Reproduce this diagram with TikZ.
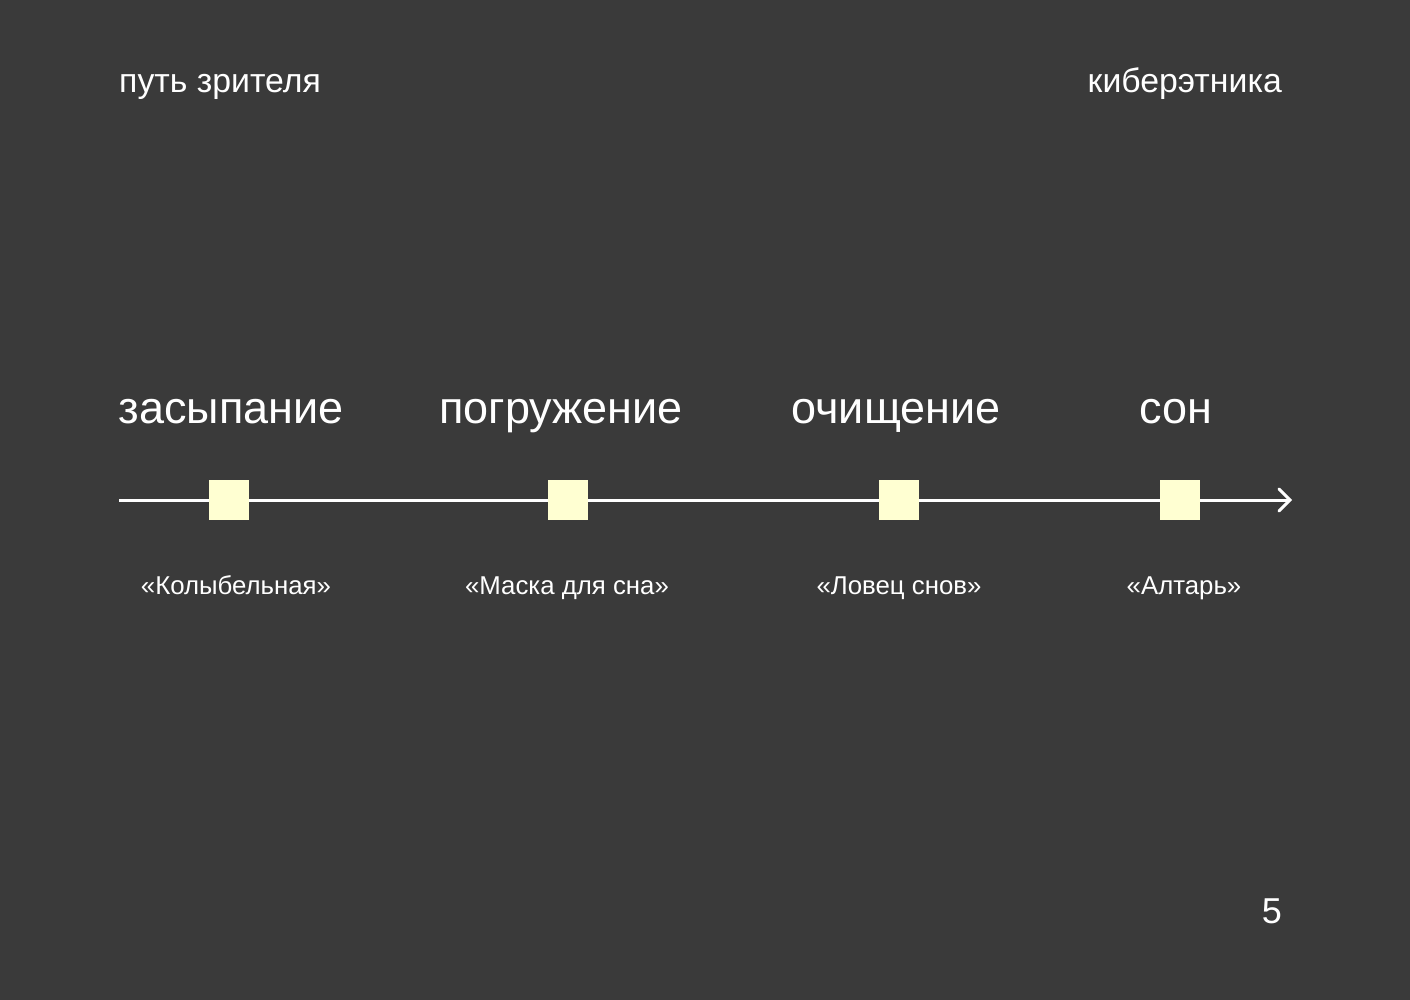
\documentclass[tikz,border=0pt]{standalone}
\usepackage{fontspec}
\setmainfont{Liberation Sans}
\usetikzlibrary{arrows.meta}
\definecolor{bg}{HTML}{3A3A3A}
\definecolor{sq}{HTML}{FFFFD2}
\begin{document}
\begin{tikzpicture}[x=1pt,y=-1pt,
  every node/.style={text=white,inner sep=0pt},
  head/.style={font=\fontsize{45}{50}\selectfont,anchor=base},
  sub/.style={font=\fontsize{25.8}{30}\selectfont,anchor=base},
  top/.style={font=\fontsize{33.8}{38}\selectfont,anchor=base},
  marker/.style={fill=sq,minimum size=40pt,draw=none},
  axis/.style={white,line width=3pt}]
\fill[bg] (0,0) rectangle (1410,1000);
\useasboundingbox (0,0) rectangle (1410,1000);
\node[top,anchor=base west] (t1) at (119,93) {путь зрителя};
\node[top,anchor=base east] (t2) at (1282,93) {киберэтника};
\coordinate (start) at (119,500);
\coordinate (end) at (1292,500);
\draw[axis,-{Straight Barb[length=11pt,width=22pt,line cap=round,line width=3pt]}] (start) -- (end);
\node[marker] (m1) at (229,500) {};
\node[marker] (m2) at (568,500) {};
\node[marker] (m3) at (899,500) {};
\node[marker] (m4) at (1180,500) {};
\node[head] (h1) at (231,423) {засыпание};
\node[head] (h2) at (561,423) {погружение};
\node[head] (h3) at (896,423) {очищение};
\node[head] (h4) at (1176,423) {сон};
\node[sub] (s1) at (236,594) {«Колыбельная»};
\node[sub] (s2) at (567,594) {«Маска для сна»};
\node[sub] (s3) at (899,594) {«Ловец снов»};
\node[sub] (s4) at (1184,594) {«Алтарь»};
\node[font=\fontsize{36}{40}\selectfont,anchor=base east] (pg) at (1282,923) {5};
\end{tikzpicture}
\end{document}
